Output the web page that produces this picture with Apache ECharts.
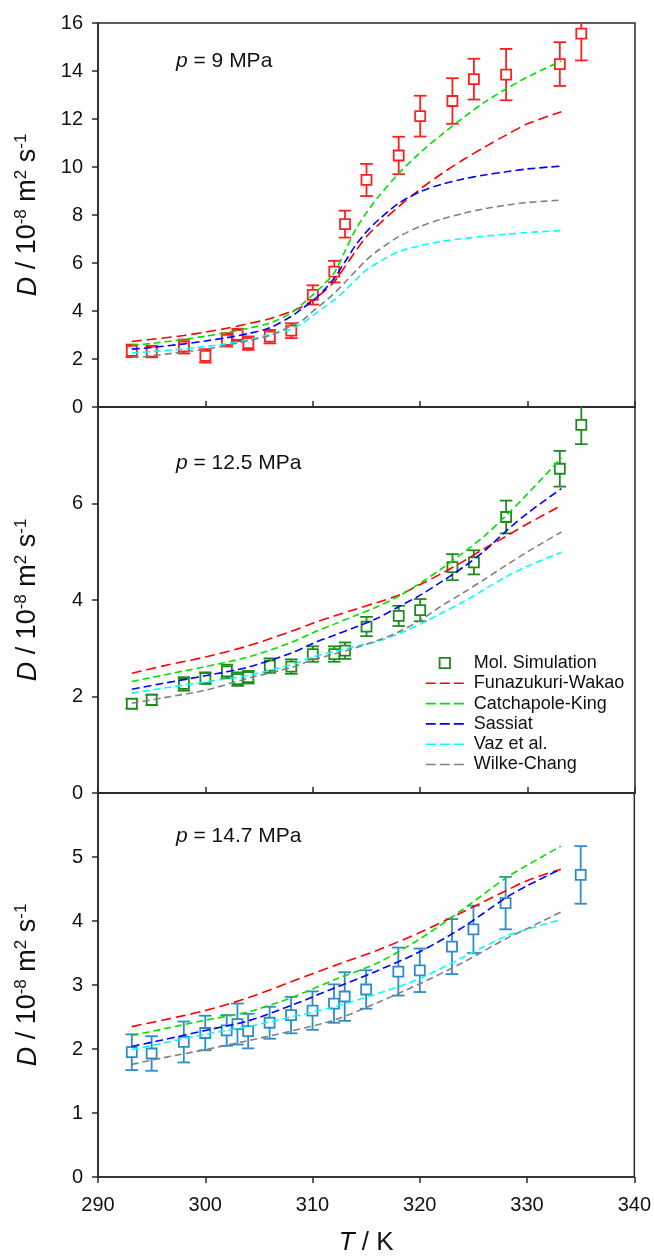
<!DOCTYPE html>
<html><head><meta charset="utf-8">
<script src="https://cdn.jsdelivr.net/npm/echarts@6/dist/echarts.min.js"></script>
<style>html,body{margin:0;padding:0;background:#fff}#c{width:654px;height:1257px}</style>
</head><body><div id="c"></div>
<script>
// ---------- DATA ----------
const modelNames = ['Funazukuri-Wakao', 'Catchapole-King', 'Sassiat', 'Vaz et al.', 'Wilke-Chang'];
const panelLabels = ['9', '12.5', '14.7'];
const yMax = [16, 8, 6];
const yInterval = [2, 2, 1];
const xTicks = [290, 300, 310, 320, 330, 340];

// Mol. Simulation temperatures (K)
const T_sim = [293.15, 295, 298, 300, 302, 303, 304, 306, 308, 310, 312, 313, 315, 318, 320, 323, 325, 328, 333, 335];
const T_sim3 = [293.15, 295, 298, 300, 302, 303, 304, 306, 308, 310, 312, 313, 315, 318, 320, 323, 325, 328, 335];

// p = 9 MPa
const D1 = [2.34, 2.31, 2.52, 2.13, 2.80, 3.00, 2.66, 2.93, 3.18, 4.67, 5.64, 7.62, 9.46, 10.48, 12.12, 12.75, 13.66, 13.85, 14.29, 15.56];
const E1 = [0.26, 0.24, 0.29, 0.28, 0.28, 0.26, 0.28, 0.28, 0.31, 0.40, 0.45, 0.56, 0.67, 0.78, 0.85, 0.95, 0.85, 1.07, 0.91, 1.12];
// p = 12.5 MPa
const D2 = [1.85, 1.93, 2.26, 2.38, 2.52, 2.36, 2.40, 2.64, 2.62, 2.88, 2.88, 2.95, 3.45, 3.67, 3.79, 4.68, 4.78, 5.72, 6.72, 7.63];
const E2 = [0.10, 0.11, 0.14, 0.12, 0.14, 0.14, 0.13, 0.15, 0.15, 0.16, 0.16, 0.17, 0.20, 0.21, 0.23, 0.27, 0.25, 0.34, 0.37, 0.40];
// p = 14.7 MPa
const D3 = [1.95, 1.93, 2.11, 2.25, 2.29, 2.39, 2.28, 2.41, 2.53, 2.60, 2.71, 2.82, 2.93, 3.21, 3.23, 3.60, 3.87, 4.28, 4.72];
const E3 = [0.28, 0.27, 0.32, 0.27, 0.24, 0.32, 0.27, 0.25, 0.285, 0.30, 0.30, 0.38, 0.30, 0.375, 0.34, 0.43, 0.37, 0.41, 0.45];

// Model curves
const T_m1 = [293.15, 295, 298, 300, 302, 304, 306, 308, 309, 310, 311, 312, 313, 314, 315, 316, 318, 320, 322, 324, 326, 328, 330, 333.15];
const FW1 = [2.73, 2.82, 2.98, 3.12, 3.28, 3.47, 3.68, 3.98, 4.18, 4.45, 4.80, 5.22, 5.85, 6.50, 7.10, 7.55, 8.35, 9.08, 9.72, 10.30, 10.83, 11.33, 11.80, 12.30];
const CK1 = [2.57, 2.65, 2.82, 2.95, 3.10, 3.28, 3.50, 3.92, 4.28, 4.67, 5.10, 5.60, 6.50, 7.40, 8.10, 8.70, 9.73, 10.60, 11.35, 12.05, 12.70, 13.25, 13.75, 14.42];
const SA1 = [2.41, 2.48, 2.63, 2.75, 2.89, 3.06, 3.30, 3.78, 4.10, 4.42, 4.85, 5.37, 6.05, 6.75, 7.30, 7.75, 8.49, 8.97, 9.28, 9.50, 9.67, 9.80, 9.92, 10.04];
const VZ1 = [2.25, 2.31, 2.42, 2.52, 2.64, 2.80, 3.02, 3.25, 3.48, 3.80, 4.14, 4.46, 4.85, 5.30, 5.71, 6.00, 6.47, 6.72, 6.90, 7.02, 7.12, 7.20, 7.27, 7.35];
const WC1 = [2.06, 2.13, 2.30, 2.41, 2.57, 2.76, 2.98, 3.38, 3.60, 3.98, 4.35, 4.74, 5.20, 5.67, 6.13, 6.50, 7.10, 7.52, 7.83, 8.07, 8.26, 8.41, 8.52, 8.62];

const T_m2 = [293.15, 296, 300, 304, 308, 310, 312, 314, 316, 318, 320, 322, 324, 326, 328, 330, 333.15];
const FW2 = [2.48, 2.63, 2.82, 3.05, 3.35, 3.52, 3.67, 3.81, 3.95, 4.10, 4.32, 4.55, 4.80, 5.07, 5.32, 5.58, 5.96];
const CK2 = [2.31, 2.44, 2.62, 2.82, 3.12, 3.32, 3.50, 3.68, 3.86, 4.08, 4.35, 4.65, 4.98, 5.33, 5.75, 6.20, 6.95];
const SA2 = [2.15, 2.27, 2.43, 2.61, 2.90, 3.10, 3.27, 3.44, 3.62, 3.86, 4.10, 4.38, 4.68, 5.02, 5.43, 5.80, 6.31];
const VZ2 = [2.07, 2.17, 2.30, 2.44, 2.66, 2.82, 2.93, 3.04, 3.14, 3.30, 3.50, 3.73, 3.96, 4.22, 4.48, 4.70, 4.99];
const WC2 = [1.86, 1.97, 2.13, 2.38, 2.60, 2.76, 2.88, 3.01, 3.16, 3.34, 3.58, 3.88, 4.15, 4.43, 4.72, 5.00, 5.41];

const T_m3 = [293.15, 296, 300, 304, 308, 312, 316, 320, 324, 328, 330, 333.15];
const FW3 = [2.35, 2.45, 2.60, 2.80, 3.05, 3.30, 3.54, 3.82, 4.14, 4.47, 4.63, 4.81];
const CK3 = [2.21, 2.31, 2.45, 2.58, 2.80, 3.08, 3.34, 3.72, 4.18, 4.67, 4.87, 5.17];
const SA3 = [2.04, 2.14, 2.29, 2.44, 2.68, 2.95, 3.22, 3.52, 3.90, 4.36, 4.55, 4.81];
const VZ3 = [1.99, 2.09, 2.23, 2.35, 2.50, 2.66, 2.86, 3.10, 3.43, 3.76, 3.87, 4.02];
const WC3 = [1.76, 1.86, 1.99, 2.13, 2.28, 2.45, 2.72, 3.02, 3.35, 3.72, 3.88, 4.14];

// ---------- STYLE ----------
const FONT = 'Liberation Sans, Arial, sans-serif';
const simColors = ['#ff1f1f', '#1f8a1f', '#2f8cc8'];
const modelColors = ['#ff0000', '#00e000', '#0000ff', '#00ffff', '#808080'];
const modelDash = [[10, 5], [7, 4], [8, 4], [7, 4], [7, 4]];
const AX = '#2a2a2a';

const panels = [
  { T: T_sim, D: D1, E: E1, T_m: T_m1, models: [FW1, CK1, SA1, VZ1, WC1] },
  { T: T_sim, D: D2, E: E2, T_m: T_m2, models: [FW2, CK2, SA2, VZ2, WC2] },
  { T: T_sim3, D: D3, E: E3, T_m: T_m3, models: [FW3, CK3, SA3, VZ3, WC3] }
];

const grids = [
  { left: 98, top: 23, width: 537, height: 384 },
  { left: 98, top: 407, width: 537, height: 386 },
  { left: 98, top: 793, width: 537, height: 385 }
].map(g => Object.assign(g, { show: true, borderColor: AX, borderWidth: 1.5, backgroundColor: 'transparent', containLabel: false }));

const xAxes = [0, 1, 2].map(i => ({
  gridIndex: i, type: 'value', min: xTicks[0], max: xTicks[xTicks.length - 1], interval: 10,
  axisLine: { show: true, onZero: false, lineStyle: { color: AX, width: 1.5 } },
  axisTick: { show: true, inside: i < 2, length: 6, lineStyle: { color: AX, width: 1.5 } },
  axisLabel: { show: i === 2, fontSize: 20, color: '#111', margin: 18, fontFamily: FONT },
  splitLine: { show: false },
  name: i === 2 ? '{i|T} / K' : '',
  nameLocation: 'middle', nameGap: 53,
  nameTextStyle: { fontSize: 26, color: '#111', fontFamily: FONT,
    rich: { i: { fontStyle: 'italic', fontSize: 26, color: '#111', fontFamily: FONT } } }
}));

const yAxes = [0, 1, 2].map(i => ({
  gridIndex: i, type: 'value', min: 0, max: yMax[i], interval: yInterval[i],
  axisLine: { show: true, onZero: false, lineStyle: { color: AX, width: 1.5 } },
  axisTick: { show: true, inside: false, length: 6, lineStyle: { color: AX, width: 1.5 } },
  axisLabel: { fontSize: 20, color: '#111', margin: 15, fontFamily: FONT,
    formatter: v => (i > 0 && v === yMax[i]) ? '' : String(v) },
  splitLine: { show: false },
  name: '{d|D} / 10{s|-8} m{s|2} s{s|-1}',
  nameLocation: 'middle', nameRotate: 90, nameGap: 55,
  nameTextStyle: { fontSize: 27, color: '#111', fontFamily: FONT, lineHeight: 30,
    rich: {
      d: { fontStyle: 'italic', fontSize: 27, color: '#111', fontFamily: FONT, lineHeight: 30 },
      n: { fontSize: 27, color: '#111', fontFamily: FONT, lineHeight: 30 },
      s: { fontSize: 17, color: '#111', fontFamily: FONT, verticalAlign: 'top', lineHeight: 16 }
    } }
}));

const series = [];
panels.forEach((p, i) => {
  const col = simColors[i];
  // error bars
  series.push({
    type: 'custom', name: 'err' + i, xAxisIndex: i, yAxisIndex: i, clip: true, z: 2, silent: true,
    data: p.T.map((t, k) => [t, p.D[k] - p.E[k], p.D[k] + p.E[k]]),
    encode: { x: 0, y: [1, 2] },
    renderItem: (params, api) => {
      const lo = api.coord([api.value(0), api.value(1)]);
      const hi = api.coord([api.value(0), api.value(2)]);
      const w = 6.3;
      const st = { stroke: col, lineWidth: 1.8, fill: null };
      return { type: 'group', children: [
        { type: 'line', shape: { x1: lo[0], y1: lo[1], x2: hi[0], y2: hi[1] }, style: st },
        { type: 'line', shape: { x1: lo[0] - w, y1: lo[1], x2: lo[0] + w, y2: lo[1] }, style: st },
        { type: 'line', shape: { x1: hi[0] - w, y1: hi[1], x2: hi[0] + w, y2: hi[1] }, style: st }
      ] };
    }
  });
  // simulation markers (line series with invisible line, so the legend shows a square only)
  series.push({
    type: 'line', name: i === 1 ? 'Mol. Simulation' : 'Mol. Simulation ' + panelLabels[i],
    xAxisIndex: i, yAxisIndex: i, z: 3,
    data: p.T.map((t, k) => [t, p.D[k]]),
    symbol: 'rect', symbolSize: 10, showSymbol: true, showAllSymbol: true,
    lineStyle: { width: 0, opacity: 0 },
    itemStyle: { color: '#ffffff', borderColor: col, borderWidth: 1.8 },
    emphasis: { disabled: true }
  });
  // model curves
  p.models.forEach((vals, m) => {
    series.push({
      type: 'line', name: i === 1 ? modelNames[m] : modelNames[m] + ' ' + panelLabels[i],
      xAxisIndex: i, yAxisIndex: i, z: 4,
      data: p.T_m.map((t, k) => [t, vals[k]]),
      showSymbol: false, symbol: 'none', smooth: 0.3,
      lineStyle: { color: modelColors[m], width: 1.6, type: modelDash[m] },
      itemStyle: { color: modelColors[m] },
      emphasis: { disabled: true }
    });
  });
});

const labelTops = [51, 453, 826];
const titles = [0, 1, 2].map(i => ({
  text: '{i|p} = ' + panelLabels[i] + ' MPa', left: 176, top: labelTops[i], padding: 0,
  textStyle: { fontSize: 21, fontWeight: 'normal', color: '#111', fontFamily: FONT,
    rich: { i: { fontStyle: 'italic', fontSize: 21, color: '#111', fontFamily: FONT } } }
}));

const legendData = [{ name: 'Mol. Simulation', itemStyle: { color: '#ffffff', borderColor: simColors[1], borderWidth: 1.8 } }]
  .concat(modelNames.map((n, m) => ({ name: n, itemStyle: { opacity: 0, color: 'transparent', borderWidth: 0 },
    lineStyle: { color: modelColors[m], width: 1.6, type: [10, 4] } })));

const chart = echarts.init(document.getElementById('c'), null, { renderer: 'canvas' });
chart.setOption({
  animation: false,
  backgroundColor: '#ffffff',
  textStyle: { fontFamily: FONT },
  title: titles,
  grid: grids,
  xAxis: xAxes,
  yAxis: yAxes,
  legend: {
    show: true, orient: 'vertical', left: 420, top: 648,
    itemWidth: 38, itemHeight: 13, itemGap: 0.3, selectedMode: false,
    data: legendData,
    textStyle: { fontSize: 18, color: '#111', fontFamily: FONT, lineHeight: 20, padding: [0, 0, 0, 5] }
  },
  series: series
});
</script></body></html>
